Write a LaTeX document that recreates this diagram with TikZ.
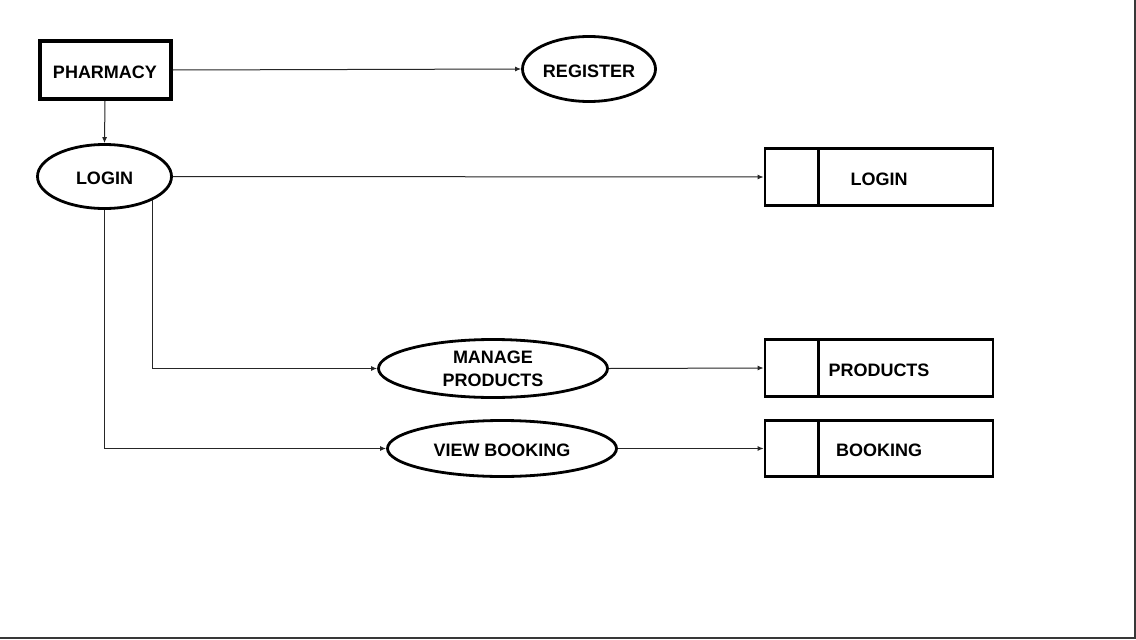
\documentclass[tikz,border=0pt]{standalone}
\usepackage{fontspec}
\setmainfont{Liberation Sans}
\usetikzlibrary{shapes.geometric,arrows.meta}
\begin{document}
\begin{tikzpicture}[x=1pt,y=-1pt,
  lbl/.style={font=\bfseries\fontsize{18}{23}\selectfont, text=black, inner sep=0pt},
  low/.style={text height=16.5pt, text depth=0pt},
  entity/.style={lbl, low, draw, line width=4pt, rectangle, minimum width=131pt, minimum height=58pt},
  proc/.style={lbl, draw, line width=2.8pt, ellipse},
  store/.style={lbl, low, draw, line width=2.8pt, rectangle, minimum width=228pt, minimum height=57pt},
  conn/.style={line width=1pt, black!85, -{Latex[length=6pt,width=5pt]}}
]
\useasboundingbox (0,0) rectangle (1136,640);
\fill[white] (0,0) rectangle (1136,640);
\draw[line width=2pt, black!78] (1135,0) -- (1135,638) -- (0,638);

\node[entity] (pharm) at (105,70) {PHARMACY};
\node[proc, low, minimum width=133pt, minimum height=65pt] (reg) at (589,69) {REGISTER};
\node[proc, low, minimum width=134pt, minimum height=64pt] (login) at (104.5,176.5) {LOGIN};
\node[proc, minimum width=229pt, minimum height=58pt, align=center] (manage) at (493,368.5) {MANAGE\\PRODUCTS};
\node[proc, low, minimum width=229pt, minimum height=56pt] (view) at (502,448.5) {VIEW BOOKING};

\node[store] (slogin) at (879,177) {LOGIN};
\node[store] (sprod) at (879,368) {PRODUCTS};
\node[store, minimum height=56pt] (sbook) at (879,448.5) {BOOKING};

\foreach \s in {slogin,sprod,sbook}{
  \draw[line width=2.8pt] ([xshift=55pt]\s.north west) -- ([xshift=55pt]\s.south west);
}

\draw[conn] (pharm.east) -- (reg.west);
\draw[conn] (pharm.south) -- (login.north);
\draw[conn] (login.east) -- (slogin.west);
\draw[conn] (login.south east) |- (manage.west);
\draw[conn] (login.south) |- (view.west);
\draw[conn] (manage.east) -- (sprod.west);
\draw[conn] (view.east) -- (sbook.west);
\end{tikzpicture}
\end{document}
